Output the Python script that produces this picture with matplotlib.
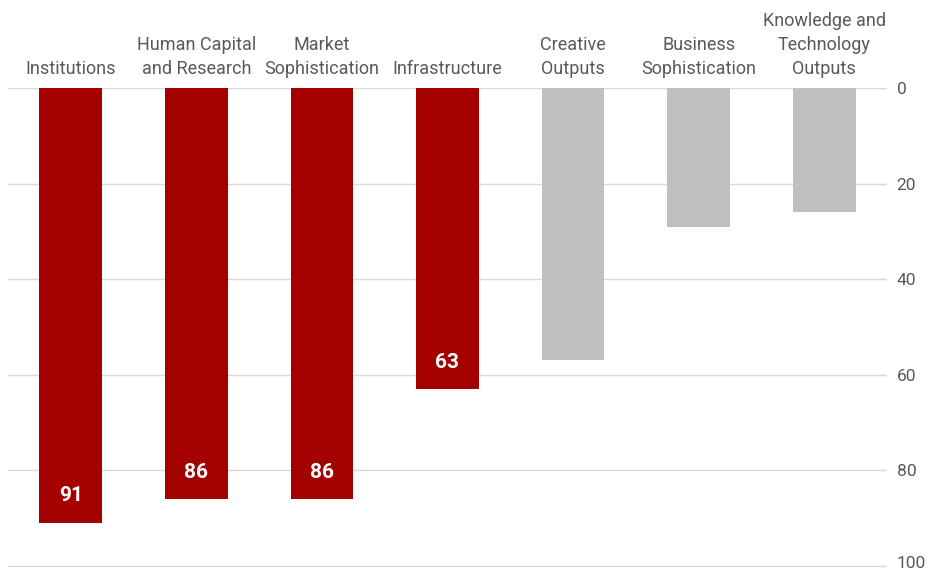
import matplotlib.pyplot as plt
import matplotlib.transforms as mtransforms
from matplotlib import font_manager

categories = ['Institutions', 'Human Capital\nand Research', 'Market\nSophistication',
              'Infrastructure', 'Creative\nOutputs', 'Business\nSophistication',
              'Knowledge and\nTechnology\nOutputs']
ranks = [91, 86, 86, 63, 57, 29, 26]
highlight = [True, True, True, True, False, False, False]

names = {f.name for f in font_manager.fontManager.ttflist}
family = 'Liberation Sans Narrow' if 'Liberation Sans Narrow' in names else 'Roboto'
plt.rcParams['font.family'] = family

red = '#a50000'
grey = '#bfbfbf'
text_col = '#595959'

fig = plt.figure(figsize=(9.32, 5.72), dpi=100)
ax = fig.add_axes([0.0086, 0.007, 0.9431, 0.8392])

x = range(len(categories))
colors = [red if h else grey for h in highlight]
ax.bar(x, ranks, width=0.5, color=colors, zorder=2)

# rank labels sit inside the bottom end of the highlighted bars (y axis is inverted)
for xi, v, h in zip(x, ranks, highlight):
    if h:
        ax.annotate(str(v), xy=(xi, v), xytext=(0, 19.5), textcoords='offset points',
                    ha='center', va='center', color='white', fontsize=15,
                    fontweight='bold', zorder=4)

ax.set_xlim(-0.5, len(categories) - 0.5)
ax.set_ylim(100.4, 0)
ax.set_yticks([0, 20, 40, 60, 80, 100])
ax.yaxis.tick_right()
ax.tick_params(axis='y', length=0, pad=7, labelsize=12.5, labelcolor=text_col)

ax.set_xticks(list(x))
ax.set_xticklabels(categories, linespacing=1.42)
ax.xaxis.tick_top()
ax.tick_params(axis='x', length=0, pad=7, labelsize=13, labelcolor=text_col)

ax.grid(axis='y', color='#d9d9d9', linewidth=1, zorder=0)
for s in ax.spines.values():
    s.set_visible(False)

# nudge the bottom tick label up so it stays inside the figure
fig.canvas.draw()
last = ax.get_yticklabels()[-1]
last.set_transform(last.get_transform() +
                   mtransforms.ScaledTranslation(0, 3 / 72, fig.dpi_scale_trans))

fig.savefig('out.png', dpi=100)
